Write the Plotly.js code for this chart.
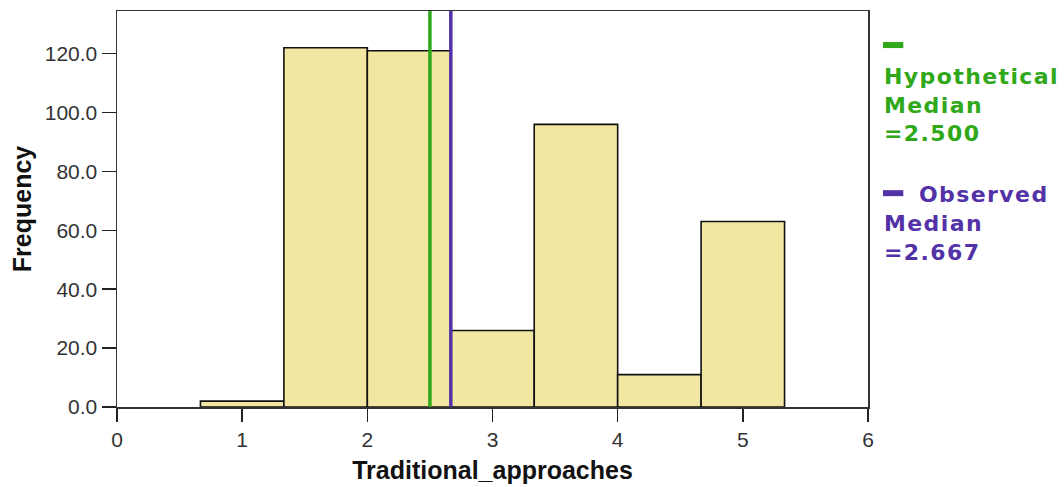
<!DOCTYPE html>
<html><head><meta charset="utf-8">
<script src="https://cdn.plot.ly/plotly-3.0.1.min.js"></script>
<style>html,body{margin:0;padding:0;background:#fff}#chart{width:1064px;height:487px}
.annotation-text{letter-spacing:1.4px}</style>
</head><body><div id="chart"></div>
<script>
var binCenters = [1, 1.6667, 2.3333, 3, 3.6667, 4.3333, 5];
var frequencies = [2, 122, 121, 26, 96, 11, 63];
var binWidth = 2/3;
var hypotheticalMedian = 2.5;
var observedMedian = 2.667;
var yTicks = [0, 20, 40, 60, 80, 100, 120];
var xTicks = [0, 1, 2, 3, 4, 5, 6];

var green = '#2fa81a', purple = '#5332a8';
var font = 'Liberation Sans, Arial, sans-serif';
var legFont = 'DejaVu Sans, Verdana, sans-serif';

var traces = [{
  type: 'bar', x: binCenters, y: frequencies, width: binWidth,
  marker: {color: '#f1e6a2', line: {color: '#111', width: 1.6}},
  hoverinfo: 'x+y', showlegend: false
}];

var layout = {
  width: 1064, height: 487,
  margin: {l: 117, r: 196, t: 11, b: 80},
  paper_bgcolor: '#fff', plot_bgcolor: '#fff',
  showlegend: false,
  xaxis: {range: [0, 6], tickvals: xTicks, ticks: 'outside', ticklen: 13, tickwidth: 1.5, tickcolor: '#222',
    showline: true, linecolor: '#333', linewidth: 1.5, mirror: true, showgrid: false, zeroline: false,
    tickfont: {family: font, size: 21, color: '#333'},
    title: {text: '<b>Traditional_approaches</b>', font: {family: font, size: 25, color: '#111'}, standoff: 12}},
  yaxis: {range: [0, 134.5], tickvals: yTicks, tickformat: '.1f', ticks: 'outside', ticklen: 14, tickwidth: 1.5, tickcolor: '#222',
    showline: true, linecolor: '#333', linewidth: 1.5, mirror: true, showgrid: false, zeroline: false,
    tickfont: {family: font, size: 21, color: '#333'},
    title: {text: '<b>Frequency</b>', font: {family: font, size: 25, color: '#111'}, standoff: 6}},
  shapes: [
    {type: 'line', xref: 'x', yref: 'paper', x0: hypotheticalMedian, x1: hypotheticalMedian, y0: 0, y1: 1, line: {color: green, width: 3.5}},
    {type: 'line', xref: 'x', yref: 'paper', x0: observedMedian, x1: observedMedian, y0: 0, y1: 1, line: {color: purple, width: 3.5}},
    {type: 'line', xref: 'paper', yref: 'paper', x0: 1.020, x1: 1.047, y0: 0.914, y1: 0.914, line: {color: green, width: 6}},
    {type: 'line', xref: 'paper', yref: 'paper', x0: 1.020, x1: 1.047, y0: 0.540, y1: 0.540, line: {color: purple, width: 6}}
  ],
  annotations: [
    {xref: 'paper', yref: 'paper', x: 1.018, y: 0.871, xanchor: 'left', yanchor: 'top', align: 'left', showarrow: false,
     text: '<b>Hypothetical<br>Median<br>=2.500</b>', font: {family: legFont, size: 22, color: green}},
    {xref: 'paper', yref: 'paper', x: 1.0646, y: 0.572, xanchor: 'left', yanchor: 'top', align: 'left', showarrow: false,
     text: '<b>Observed</b>', font: {family: legFont, size: 22, color: purple}},
    {xref: 'paper', yref: 'paper', x: 1.018, y: 0.500, xanchor: 'left', yanchor: 'top', align: 'left', showarrow: false,
     text: '<b>Median<br>=2.667</b>', font: {family: legFont, size: 22, color: purple}}
  ]
};
Plotly.newPlot('chart', traces, layout, {displayModeBar: false, staticPlot: true});
</script></body></html>
